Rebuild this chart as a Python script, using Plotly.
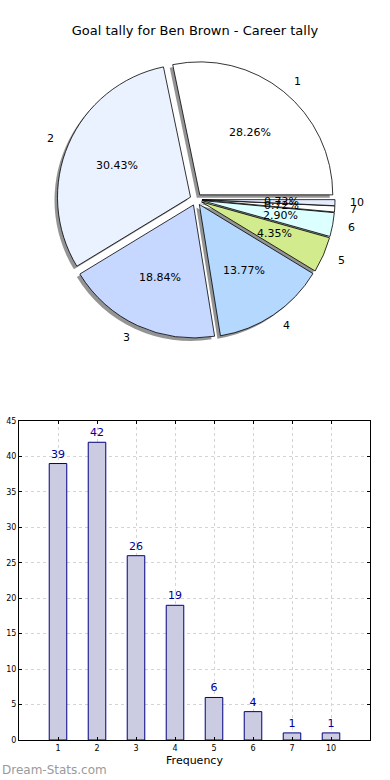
import numpy as np
import plotly.graph_objects as go

# ---------------- data ----------------
freq_labels = ["1", "2", "3", "4", "5", "6", "7", "10"]
counts = [39, 42, 26, 19, 6, 4, 1, 1]
slice_colors = ["#ffffff", "#eaf1ff", "#c6d8ff", "#b5d8ff", "#d1eb8d", "#dcffff", "#ffffff", "#e6ecff"]
chart_title = "Goal tally for Ben Brown - Career tally"
y_ticks = [0, 5, 10, 15, 20, 25, 30, 35, 40, 45]

# ---------------- geometry ----------------
W, H = 390, 780
pie_cx, pie_cy, pie_r = 196.0, 199.5, 133.0
pull = 0.045
box = pie_r * (2 + 2 * pull)

def px_domain(cx, cy, dx=0.0, dy=0.0):
    return dict(x=[(cx - box / 2 + dx) / W, (cx + box / 2 + dx) / W],
                y=[1 - (cy + box / 2 + dy) / H, 1 - (cy - box / 2 + dy) / H])

vals = np.array(counts, dtype=float)
fr = vals / vals.sum()
rot = 90 - 360 * fr[0]

FONT = "DejaVu Sans"
fig = go.Figure()

# shadow
fig.add_trace(go.Pie(
    labels=freq_labels, values=counts, sort=False, direction="counterclockwise",
    rotation=rot, pull=[pull] * len(counts), textinfo="none", hoverinfo="skip",
    marker=dict(colors=["rgba(0,0,0,0.42)"] * len(counts), line=dict(width=0)),
    domain=px_domain(pie_cx, pie_cy, -3, 3), showlegend=False,
))
# main pie
fig.add_trace(go.Pie(
    labels=freq_labels, values=counts, sort=False, direction="counterclockwise",
    rotation=rot, pull=[pull] * len(counts), textinfo="none",
    marker=dict(colors=slice_colors, line=dict(width=0.8, color="black")),
    domain=px_domain(pie_cx, pie_cy), showlegend=False,
))

# pie labels (matplotlib style: label at 1.1 r, pct at 0.6 r)
starts = np.concatenate([[0], np.cumsum(fr)[:-1]])
mids = 2 * np.pi * (starts + fr / 2)
annotations = []
for lab, f, a in zip(freq_labels, fr, mids):
    ox = pie_cx + pull * pie_r * np.cos(a)
    oy = pie_cy - pull * pie_r * np.sin(a)
    lx = ox + 1.1 * pie_r * np.cos(a)
    ly = oy - 1.1 * pie_r * np.sin(a)
    annotations.append(dict(x=lx / W, y=1 - ly / H, xref="paper", yref="paper", text=lab,
                            showarrow=False, xanchor="left" if np.cos(a) > 0 else "right",
                            yanchor="middle", font=dict(family=FONT, size=11, color="black")))
    tx = ox + 0.6 * pie_r * np.cos(a)
    ty = oy - 0.6 * pie_r * np.sin(a)
    annotations.append(dict(x=tx / W, y=1 - ty / H, xref="paper", yref="paper",
                            text=f"{100 * f:.2f}%", showarrow=False, xanchor="center",
                            yanchor="middle", font=dict(family=FONT, size=11, color="black")))

annotations.append(dict(x=0, y=1 - 770 / H, xref="paper", yref="paper", text="Dream-Stats.com",
                        showarrow=False, xanchor="left", yanchor="middle",
                        font=dict(family=FONT, size=12, color="#9a9a9a")))

# bar chart
fig.add_trace(go.Bar(
    x=freq_labels, y=counts, width=0.45, text=[str(c) for c in counts], textposition="outside",
    textfont=dict(family=FONT, size=11, color="#000099"), cliponaxis=False,
    marker=dict(color="#cbcbe2", line=dict(color="#000080", width=1)), showlegend=False,
    hoverinfo="x+y",
))

fig.update_layout(
    width=W, height=H, margin=dict(l=0, r=0, t=0, b=0, autoexpand=False),
    paper_bgcolor="white", plot_bgcolor="white",
    title=dict(text=chart_title, x=0.5, xanchor="center", y=1 - 30 / H, yanchor="middle",
               xref="container", yref="container",
               font=dict(family=FONT, size=13, color="black")),
    annotations=annotations,
    xaxis=dict(domain=[19 / W, 370 / W], type="category", range=[-1, len(freq_labels)],
               automargin=False,
               showline=True, linecolor="black", linewidth=1, mirror="ticks",
               ticks="inside", ticklen=3, tickcolor="black",
               showgrid=True, gridcolor="#d4d4d4", griddash="dot", gridwidth=1,
               tickfont=dict(family=FONT, size=8, color="black"),
               title=dict(text="Frequency", standoff=4, font=dict(family=FONT, size=11, color="black"))),
    yaxis=dict(domain=[1 - 740 / H, 1 - 421 / H], range=[0, 45], tickvals=y_ticks,
               automargin=False,
               showline=True, linecolor="black", linewidth=1, mirror="ticks",
               ticks="inside", ticklen=3, tickcolor="black", zeroline=False,
               showgrid=True, gridcolor="#d4d4d4", griddash="dot", gridwidth=1,
               tickfont=dict(family=FONT, size=8, color="black")),
    bargap=0.5,
)

fig.write_html("out.html", config={"displayModeBar": False},
               post_script="document.body.style.margin='0px';document.body.style.overflow='hidden';")
